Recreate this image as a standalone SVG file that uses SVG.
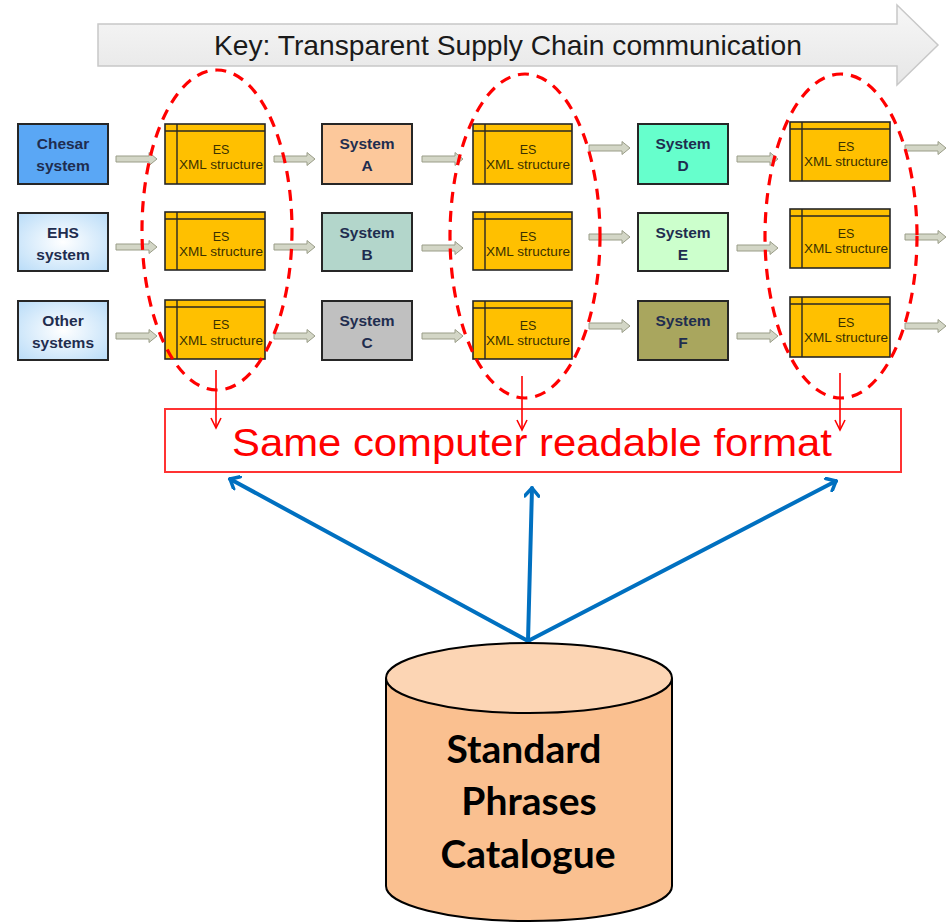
<svg xmlns="http://www.w3.org/2000/svg" width="947" height="923" viewBox="0 0 947 923">
<defs>
<linearGradient id="keyGrad" x1="0" y1="0" x2="0" y2="1">
<stop offset="0" stop-color="#f7f7f7"/><stop offset="1" stop-color="#e6e6e6"/>
</linearGradient>
<radialGradient id="lightBlue" cx="0.5" cy="0.5" r="0.7">
<stop offset="0" stop-color="#ffffff"/><stop offset="1" stop-color="#b9dcf8"/>
</radialGradient>
<path id="garrow" d="M0,-3 H33 V-6.5 L41,0 L33,6.5 V3 H0 Z"/>
<marker id="blueHead" viewBox="-10 -8 12 16" refX="0" refY="0" markerWidth="12" markerHeight="16" markerUnits="userSpaceOnUse" orient="auto">
<path d="M-8,-7 L0,0 L-8,7" fill="none" stroke="#0070c0" stroke-width="3.5" stroke-linecap="round" stroke-linejoin="round"/>
</marker>
</defs>
<style>
.sys{stroke:#262626;stroke-width:2}
.st{font-family:"Liberation Sans",Arial,sans-serif;font-weight:bold;font-size:15.5px;fill:#1f2d4f;text-anchor:middle}
.es rect{fill:#ffc000;stroke:#262626;stroke-width:1.6}
.es line{stroke:#262626;stroke-width:1.4}
.et{font-family:"Liberation Sans",Arial,sans-serif;font-size:12.5px;fill:#3a3000;text-anchor:middle}
.ga{fill:#d3d6c6;stroke:#9a9d88;stroke-width:1}
.ell{fill:none;stroke:#ff0000;stroke-width:3.2;stroke-dasharray:11 8}
.rl{stroke:#ff0000;stroke-width:1.6;fill:none}
.bl{stroke:#0070c0;stroke-width:4;fill:none;stroke-linecap:round}
</style>

<g id="key">
<path d="M98,24 H897 V5 L938,45 L897,85 V66 H98 Z" fill="url(#keyGrad)" stroke="#c8c8c8" stroke-width="1.5"/>
<text x="508" y="55" font-family="Liberation Sans,Arial,sans-serif" font-size="28" fill="#1a1a1a" text-anchor="middle" textLength="588" lengthAdjust="spacingAndGlyphs">Key: Transparent Supply Chain communication</text>
</g>

<g id="connectors">
<g class="ga">
<use href="#garrow" x="116" y="159"/><use href="#garrow" x="116" y="247"/><use href="#garrow" x="116" y="336"/>
<use href="#garrow" x="274" y="159"/><use href="#garrow" x="274" y="247"/><use href="#garrow" x="274" y="336"/>
<use href="#garrow" x="422" y="159"/><use href="#garrow" x="422" y="248"/><use href="#garrow" x="422" y="336"/>
<use href="#garrow" x="589" y="148"/><use href="#garrow" x="589" y="237"/><use href="#garrow" x="589" y="326"/>
<use href="#garrow" x="737" y="159"/><use href="#garrow" x="737" y="248"/><use href="#garrow" x="737" y="336"/>
<use href="#garrow" x="905" y="148"/><use href="#garrow" x="905" y="237"/><use href="#garrow" x="905" y="326"/>
</g>
</g>

<g id="sys-chesar"><rect class="sys" x="18" y="124" width="90" height="60" fill="#5aa7f5"/><text class="st" x="63" y="149">Chesar</text><text class="st" x="63" y="171">system</text></g>
<g id="sys-ehs"><rect class="sys" x="18" y="213" width="90" height="58" fill="url(#lightBlue)"/><text class="st" x="63" y="238">EHS</text><text class="st" x="63" y="260">system</text></g>
<g id="sys-other"><rect class="sys" x="18" y="301" width="90" height="59" fill="url(#lightBlue)"/><text class="st" x="63" y="326">Other</text><text class="st" x="63" y="348">systems</text></g>

<g id="sys-a"><rect class="sys" x="322" y="124" width="90" height="60" fill="#fcc89b"/><text class="st" x="367" y="149">System</text><text class="st" x="367" y="171">A</text></g>
<g id="sys-b"><rect class="sys" x="322" y="213" width="90" height="58" fill="#b3d6cb"/><text class="st" x="367" y="238">System</text><text class="st" x="367" y="260">B</text></g>
<g id="sys-c"><rect class="sys" x="322" y="301" width="90" height="59" fill="#c0c0c0"/><text class="st" x="367" y="326">System</text><text class="st" x="367" y="348">C</text></g>

<g id="sys-d"><rect class="sys" x="638" y="124" width="90" height="60" fill="#66ffcc"/><text class="st" x="683" y="149">System</text><text class="st" x="683" y="171">D</text></g>
<g id="sys-e"><rect class="sys" x="638" y="213" width="90" height="58" fill="#ccffcc"/><text class="st" x="683" y="238">System</text><text class="st" x="683" y="260">E</text></g>
<g id="sys-f"><rect class="sys" x="638" y="301" width="90" height="59" fill="#a9a65e"/><text class="st" x="683" y="326">System</text><text class="st" x="683" y="348">F</text></g>

<g id="es-1a" class="es"><rect x="165" y="124" width="100" height="60"/><line x1="177" y1="124" x2="177" y2="184"/><line x1="165" y1="131" x2="265" y2="131"/><text class="et" x="221" y="154">ES</text><text class="et" x="221" y="169" textLength="84" lengthAdjust="spacingAndGlyphs">XML structure</text></g>
<g id="es-1b" class="es"><rect x="165" y="212" width="100" height="58"/><line x1="177" y1="212" x2="177" y2="270"/><line x1="165" y1="219" x2="265" y2="219"/><text class="et" x="221" y="241">ES</text><text class="et" x="221" y="256" textLength="84" lengthAdjust="spacingAndGlyphs">XML structure</text></g>
<g id="es-1c" class="es"><rect x="165" y="300" width="100" height="59"/><line x1="177" y1="300" x2="177" y2="359"/><line x1="165" y1="307" x2="265" y2="307"/><text class="et" x="221" y="329">ES</text><text class="et" x="221" y="345" textLength="84" lengthAdjust="spacingAndGlyphs">XML structure</text></g>

<g id="es-2a" class="es"><rect x="473" y="124" width="99" height="60"/><line x1="485" y1="124" x2="485" y2="184"/><line x1="473" y1="131" x2="572" y2="131"/><text class="et" x="528" y="154">ES</text><text class="et" x="528" y="169" textLength="84" lengthAdjust="spacingAndGlyphs">XML structure</text></g>
<g id="es-2b" class="es"><rect x="473" y="212" width="99" height="58"/><line x1="485" y1="212" x2="485" y2="270"/><line x1="473" y1="219" x2="572" y2="219"/><text class="et" x="528" y="241">ES</text><text class="et" x="528" y="256" textLength="84" lengthAdjust="spacingAndGlyphs">XML structure</text></g>
<g id="es-2c" class="es"><rect x="473" y="301" width="99" height="58"/><line x1="485" y1="301" x2="485" y2="359"/><line x1="473" y1="308" x2="572" y2="308"/><text class="et" x="528" y="330">ES</text><text class="et" x="528" y="345" textLength="84" lengthAdjust="spacingAndGlyphs">XML structure</text></g>

<g id="es-3a" class="es"><rect x="790" y="122" width="100" height="59"/><line x1="802" y1="122" x2="802" y2="181"/><line x1="790" y1="129" x2="890" y2="129"/><text class="et" x="846" y="151">ES</text><text class="et" x="846" y="166" textLength="84" lengthAdjust="spacingAndGlyphs">XML structure</text></g>
<g id="es-3b" class="es"><rect x="790" y="209" width="100" height="59"/><line x1="802" y1="209" x2="802" y2="268"/><line x1="790" y1="216" x2="890" y2="216"/><text class="et" x="846" y="238">ES</text><text class="et" x="846" y="253" textLength="84" lengthAdjust="spacingAndGlyphs">XML structure</text></g>
<g id="es-3c" class="es"><rect x="790" y="297" width="100" height="60"/><line x1="802" y1="297" x2="802" y2="357"/><line x1="790" y1="304" x2="890" y2="304"/><text class="et" x="846" y="327">ES</text><text class="et" x="846" y="342" textLength="84" lengthAdjust="spacingAndGlyphs">XML structure</text></g>

<g id="groups">
<ellipse class="ell" cx="217" cy="230" rx="75" ry="160"/>
<ellipse class="ell" cx="525" cy="236" rx="75" ry="162"/>
<ellipse class="ell" cx="841" cy="236" rx="76" ry="162"/>
</g>

<g id="format">
<rect x="165" y="409" width="736" height="63" fill="#ffffff" stroke="#ff3333" stroke-width="2"/>
<text x="532" y="456" font-family="Liberation Sans,Arial,sans-serif" font-size="38" fill="#ff0000" text-anchor="middle" textLength="600" lengthAdjust="spacingAndGlyphs">Same computer readable format</text>
</g>

<g id="red-arrows" class="rl">
<line x1="216" y1="370" x2="216" y2="428"/><path d="M211,418 L216,428 L221,418"/>
<line x1="522" y1="376" x2="522" y2="430"/><path d="M517,420 L522,430 L527,420"/>
<line x1="840" y1="373" x2="840" y2="430"/><path d="M835,420 L840,430 L845,420"/>
</g>

<g id="blue-arrows">
<line class="bl" x1="528" y1="641" x2="230" y2="479" marker-end="url(#blueHead)"/>
<line class="bl" x1="528" y1="641" x2="532" y2="488" marker-end="url(#blueHead)"/>
<line class="bl" x1="528" y1="641" x2="836" y2="481" marker-end="url(#blueHead)"/>
</g>

<g id="catalogue">
<path d="M386,678 V886 A143,35 0 0 0 672,886 V678" fill="#fac090" stroke="#000" stroke-width="2"/>
<ellipse cx="529" cy="678" rx="143" ry="35" fill="#fcd5b4" stroke="#000" stroke-width="2"/>
<g font-family="Lato,'Open Sans',sans-serif" font-weight="bold" font-size="39" fill="#000" text-anchor="middle">
<text x="524" y="763">Standard</text>
<text x="529" y="815">Phrases</text>
<text x="528" y="868">Catalogue</text>
</g>
</g>
</svg>
